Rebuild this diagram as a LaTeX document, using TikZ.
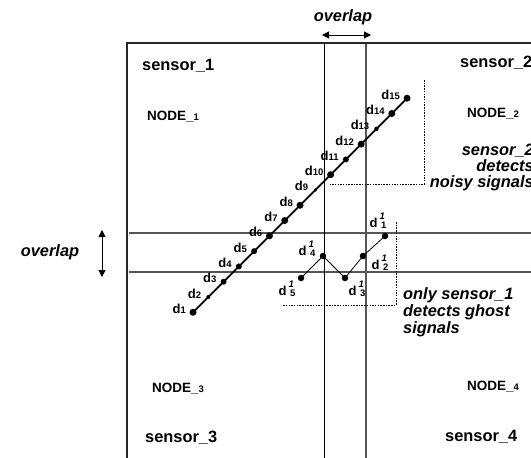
\documentclass[tikz,border=0pt]{standalone}
\usepackage{fontspec}
\setmainfont{Liberation Sans}
\usetikzlibrary{arrows.meta}
\definecolor{lgray}{HTML}{555555}
\newcommand\smalldig[1]{{\fontsize{9.5}{9.5}\selectfont #1}}
\newcommand\ghostlbl[1]{d\hspace{2pt}\rlap{\raisebox{8pt}{\fontsize{9.5}{9.5}\selectfont\itshape 1}}\hspace{1.5pt}\raisebox{-1pt}{\fontsize{9.5}{9.5}\selectfont #1}}
\tikzset{
  big/.style={font=\fontsize{16.4}{16}\selectfont\bfseries, inner sep=0pt},
  ital/.style={font=\fontsize{16.4}{17}\selectfont\bfseries\itshape, inner sep=0pt},
  nodelbl/.style={font=\fontsize{13.5}{14}\selectfont\bfseries, inner sep=0pt, anchor=base west},
  dlbl/.style={font=\fontsize{13}{13}\selectfont\bfseries, inner sep=0pt, anchor=base east},
  glbl/.style={font=\fontsize{13}{13}\selectfont\bfseries, inner sep=0pt},
  dotnode/.style={circle, fill=black, inner sep=0pt, minimum size=#1},
  gridline/.style={draw=lgray, line width=1.1pt},
  blackline/.style={draw=black, line width=1pt},
  dashline/.style={draw=black, line width=0.6pt, dash pattern=on 1.5pt off 1.2pt},
  dblarrow/.style={line width=1pt, {Triangle[length=7pt,width=7pt]}-{Triangle[length=7pt,width=7pt]}},
}
\begin{document}
\begin{tikzpicture}[x=1pt,y=-1pt]
\useasboundingbox (0,0) rectangle (531,458);
% frame and overlap lines
\coordinate (tl) at (127,43);
\coordinate (tr) at (533,43);
\coordinate (bl) at (127,460);
\coordinate (v1t) at (324,43);
\coordinate (v1b) at (324,460);
\coordinate (v2t) at (366,43);
\coordinate (v2b) at (366,460);
\coordinate (h1l) at (129,233);
\coordinate (h1r) at (533,233);
\coordinate (h2l) at (129,272);
\coordinate (h2r) at (533,272);
\draw[gridline] (h1l) -- (h1r);
\draw[gridline] (h2l) -- (h2r);
\draw[gridline] (v2t) -- (v2b);
\draw[blackline] (v1t) -- (v1b);
\draw[draw=black!85, line width=1.1pt] (tr) -- (tl) -- (bl);

% overlap arrows
\node[ital] (ovtop) at (343,17) {overlap};
\coordinate (oa1) at (322,35);
\coordinate (oa2) at (371,35);
\draw[dblarrow] (oa1) -- (oa2);
\node[ital] (ovleft) at (50,252) {overlap};
\coordinate (ob1) at (102,230);
\coordinate (ob2) at (102,277);
\draw[dblarrow] (ob1) -- (ob2);

% sensor / node labels
\node[big, anchor=base west] (s1) at (142,70) {sensor\_1};
\node[big, anchor=base west] (s2) at (460,67) {sensor\_2};
\node[big, anchor=base west] (s3) at (145,442) {sensor\_3};
\node[big, anchor=base west] (s4) at (445,441) {sensor\_4};
\node[nodelbl] (n1) at (147,120) {NODE\_\smalldig{1}};
\node[nodelbl] (n2) at (467,117) {NODE\_\smalldig{2}};
\node[nodelbl] (n3) at (152,392) {NODE\_\smalldig{3}};
\node[nodelbl] (n4) at (467,390) {NODE\_\smalldig{4}};

% dashed regions
\coordinate (na) at (424,80);
\coordinate (nb) at (424,184);
\coordinate (nc) at (330,184);
\draw[dashline] (na) -- (nb) -- (nc);
\coordinate (ga) at (396,222);
\coordinate (gb) at (396,305);
\coordinate (gc) at (282,305);
\draw[dashline] (ga) -- (gb) -- (gc);

% italic annotations
\node[ital, anchor=base east] (t1) at (534,155) {sensor\_2};
\node[ital, anchor=base east] (t2) at (534,171) {detects};
\node[ital, anchor=base east] (t3) at (534,187) {noisy signals};
\node[ital, anchor=base west] (u1) at (403,299) {only sensor\_1};
\node[ital, anchor=base west] (u2) at (403,316) {detects ghost};
\node[ital, anchor=base west] (u3) at (403,333) {signals};

% detections d1..d15
\foreach \k/\s in {1/7pt,2/4pt,3/6pt,4/6pt,5/6pt,6/7pt,7/7pt,8/7pt,9/3.5pt,10/7pt,11/6pt,12/7pt,13/4.5pt,14/7pt,15/7pt}{
  \pgfmathsetmacro\xx{193+15.29*(\k-1)}
  \pgfmathsetmacro\yy{312.3-15.29*(\k-1)}
  \node[dotnode=\s] (d\k) at (\xx,\yy) {};
  \node[dlbl] (l\k) at (\xx-7,\yy+1) {d\smalldig{\k}};
}
\draw[line width=1.8pt] (d1.center) -- (d15.center);

% ghost detections
\node[dotnode=6.5pt] (g1) at (385,236) {};
\node[dotnode=6.5pt] (g2) at (363,256) {};
\node[dotnode=6.5pt] (g3) at (345,278) {};
\node[dotnode=6.5pt] (g4) at (323,256) {};
\node[dotnode=6.5pt] (g5) at (301,278) {};
\draw[line width=0.8pt] (g5.center) -- (g4.center) -- (g3.center) -- (g2.center) -- (g1.center);
\node[glbl] (gl1) at (378,221) {\ghostlbl{1}};
\node[glbl] (gl2) at (380,263) {\ghostlbl{2}};
\node[glbl] (gl3) at (357,289) {\ghostlbl{3}};
\node[glbl] (gl4) at (307,249) {\ghostlbl{4}};
\node[glbl] (gl5) at (287,289) {\ghostlbl{5}};
\end{tikzpicture}
\end{document}
